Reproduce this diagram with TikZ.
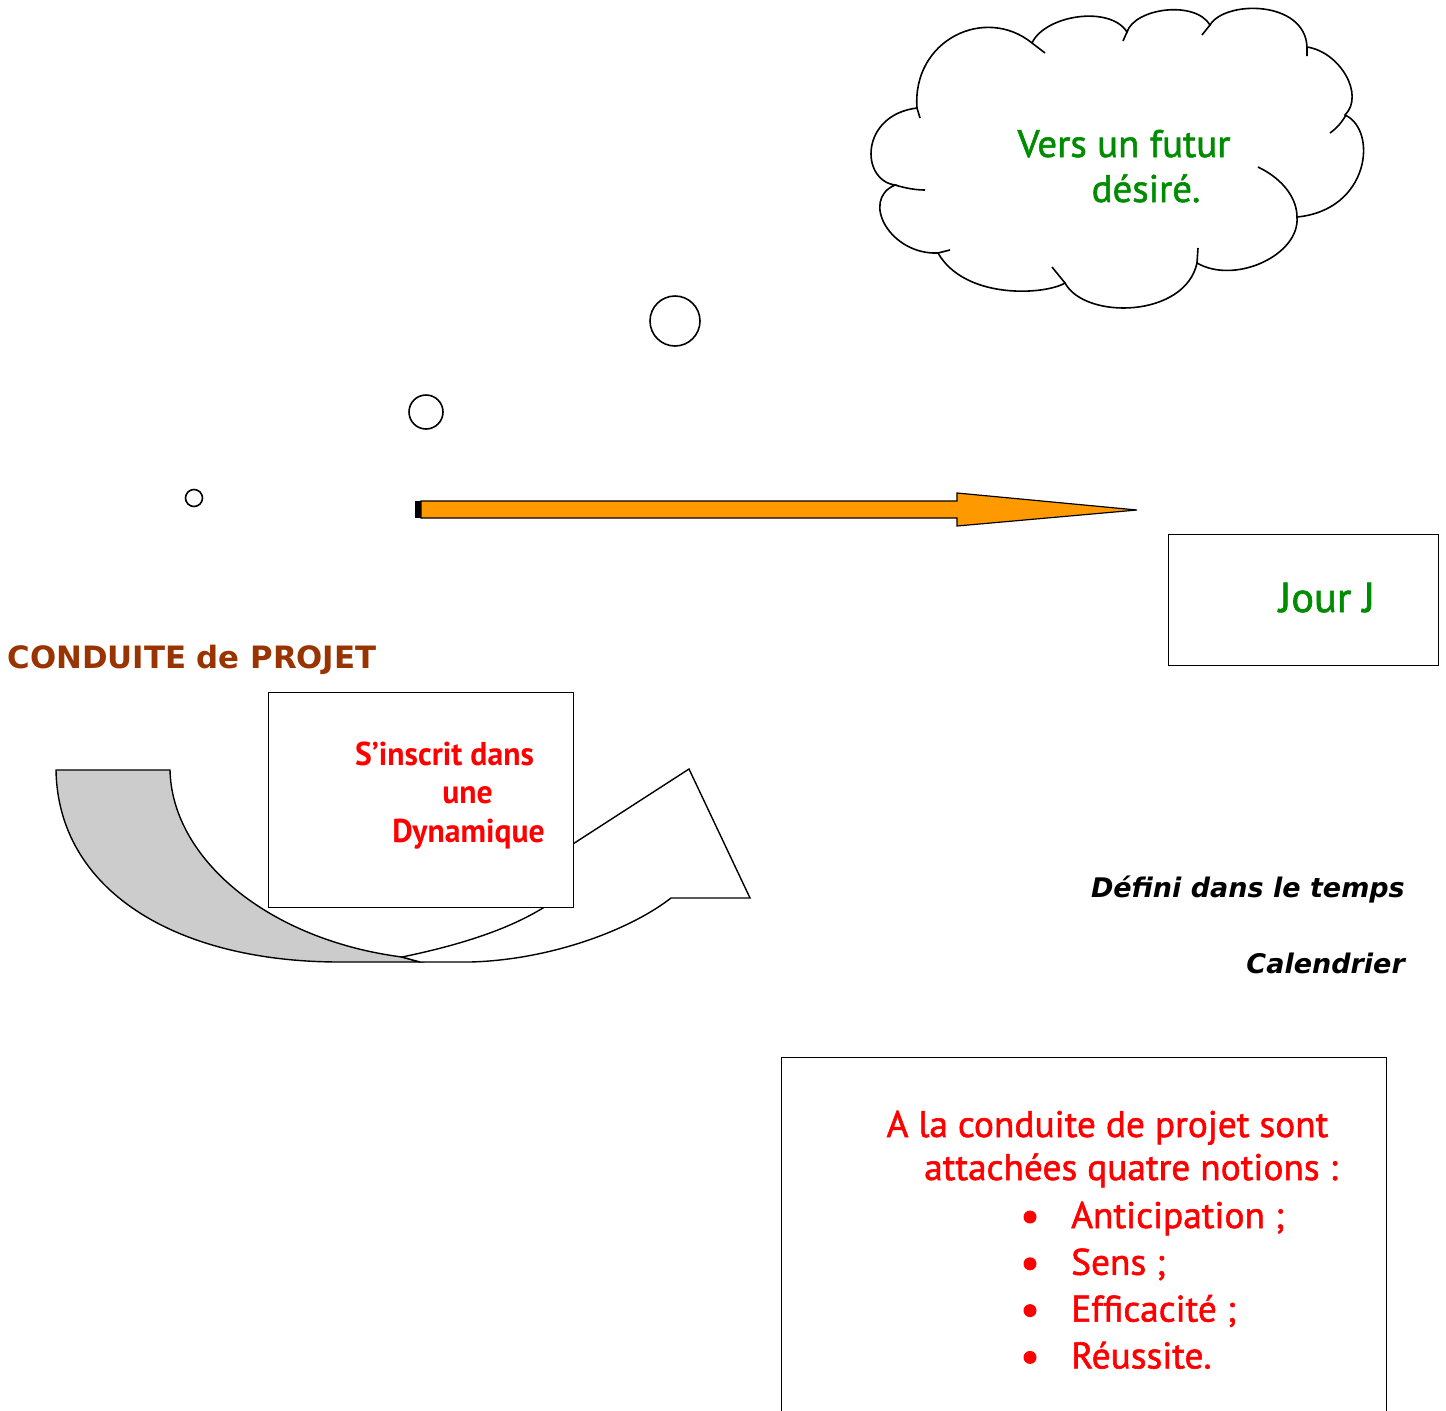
\documentclass[tikz,border=0pt]{standalone}
\usepackage{fontspec}
\setmainfont{PT Sans}
\newfontfamily\gillfont[FakeStretch=1.01, FakeBold=1.5]{PT Sans}
\newfontfamily\narrowfont[FakeStretch=0.96]{PT Sans}
\newfontfamily\comicfont{DejaVu Sans}

\definecolor{futurgreen}{RGB}{0,140,0}
\definecolor{projbrown}{RGB}{153,51,0}
\definecolor{flecheorange}{RGB}{255,153,0}
\definecolor{bandgray}{RGB}{204,204,204}

\tikzset{
  cadre/.style={draw, line width=1.2pt, fill=white, inner sep=0pt},
  nuage/.style={line width=1.6pt},
  bulle/.style={draw, line width=1.6pt},
  vert/.style={text=futurgreen, font=\gillfont\fontsize{38.5}{44}\selectfont, inner sep=0pt},
  rouge/.style={text=red, font=\gillfont\fontsize{37}{44}\selectfont, inner sep=0pt},
  rougegras/.style={text=red, font=\narrowfont\bfseries\fontsize{33}{40}\selectfont, inner sep=0pt},
  comic/.style={font=\comicfont\bfseries\itshape\fontsize{27}{32}\selectfont, inner sep=0pt},
}

\begin{document}
\begin{tikzpicture}[x=1pt, y=-1pt]
      \useasboundingbox (0,0) rectangle (1446,1411);
      \clip (0,0) rectangle (1446,1411);
      % bulles
      \draw[bulle] (194,498) circle [radius=8.5];
      \draw[bulle] (426,412) circle [radius=17];
      \draw[bulle] (675,321) circle [radius=25];
      % nuage
      \draw[nuage, fill=white] (917,108) .. controls (912,40) and (985,5) .. (1032,43)
            .. controls (1045,15) and (1110,5) .. (1127,32)
            .. controls (1135,8) and (1195,0) .. (1210,25)
            .. controls (1225,0) and (1305,0) .. (1307,47)
            .. controls (1340,52) and (1365,95) .. (1345,115)
            .. controls (1378,130) and (1370,210) .. (1297,217)
            .. controls (1300,255) and (1235,285) .. (1197,263)
            .. controls (1185,318) and (1085,320) .. (1065,283)
            .. controls (1045,295) and (965,300) .. (938,253)
            .. controls (890,255) and (860,200) .. (895,185)
            .. controls (860,180) and (860,115) .. (917,108) -- cycle;
      \draw[nuage] (917,108) -- (920,118)
                 (1032,43) -- (1045,53)
                 (1127,32) -- (1123,41)
                 (1210,25) -- (1202,35)
                 (1307,47) -- (1307,56)
                 (1346,115) .. controls (1342,122) and (1337,128) .. (1330,133)
                 (1258,167) .. controls (1285,180) and (1297,200) .. (1297,217)
                 (1198,248) -- (1197,263)
                 (1052,267) -- (1065,283)
                 (950,250) -- (938,253)
                 (895,185) .. controls (905,188) and (915,190) .. (925,190);
      \node[vert, anchor=base] (futur) at (1124,157) {Vers un futur};
      \node[vert, anchor=base] (desire) at (1146,202) {désiré.};
      % fleche du temps
      \draw[line width=1.2pt, fill=flecheorange] (421,501) -- (957,501) -- (957,493) -- (1137,510)
            -- (957,526) -- (957,518) -- (421,518) -- cycle;
      \fill (415,501) rectangle (421,518);
      % Jour J
      \node[cadre, minimum width=270pt, minimum height=131pt, anchor=north west] (jourBox) at (1168,534) {};
      \node[vert, anchor=base, font=\gillfont\fontsize{42}{48}\selectfont] (jour) at (1327,612) {Jour J};
      \node[font=\comicfont\bfseries\fontsize{30.8}{36}\selectfont, text=projbrown, inner sep=0pt, anchor=base] (titre) at (192,668) {CONDUITE de PROJET};
      % fleche courbe
      \draw[line width=1.4pt, fill=bandgray] (56,770) -- (170,770) .. controls (172,860) and (270,940) .. (402,957)
            -- (420,962) -- (340,962) .. controls (175,962) and (58,890) .. (56,770) -- cycle;
      \draw[line width=1.4pt, fill=white] (402,957) .. controls (470,943) and (520,925) .. (555,900)
            -- (545,862) -- (689,769) -- (750,898) -- (671,898)
            .. controls (630,930) and (550,960) .. (470,962) -- (420,962) -- cycle;
      \node[cadre, minimum width=305pt, minimum height=215pt, anchor=north west] (dynBox) at (268,692) {};
      \node[rougegras, anchor=base] (inscrit) at (444.5,765) {S’inscrit dans};
      \node[rougegras, anchor=base] (une) at (467.5,803) {une};
      \node[rougegras, anchor=base] (dynamique) at (468.5,842) {Dynamique};
      % temps
      \node[comic, anchor=base east] (defini) at (1405,897) {Défini dans le temps};
      \node[comic, anchor=base east] (calendrier) at (1405,973) {Calendrier};
      % notions
      \node[cadre, minimum width=605pt, minimum height=420pt, anchor=north west] (notionBox) at (781,1057) {};
      \node[rouge, anchor=base] (intro) at (1107.5,1137) {A la conduite de projet sont};
      \node[rouge, anchor=base] (attache) at (1131,1180) {attachées quatre notions :};
      \foreach \notion [count=\i] in {Anticipation ;, Sens ;, Efficacité ;, Réussite.}{
        \node[rouge, anchor=base west] (notion\i) at (1071,{1228+46.8*(\i-1)}) {\notion};
        \fill[red] (1030,{1217+46.8*(\i-1)}) circle [radius=6.5];
      }
\end{tikzpicture}
\end{document}
